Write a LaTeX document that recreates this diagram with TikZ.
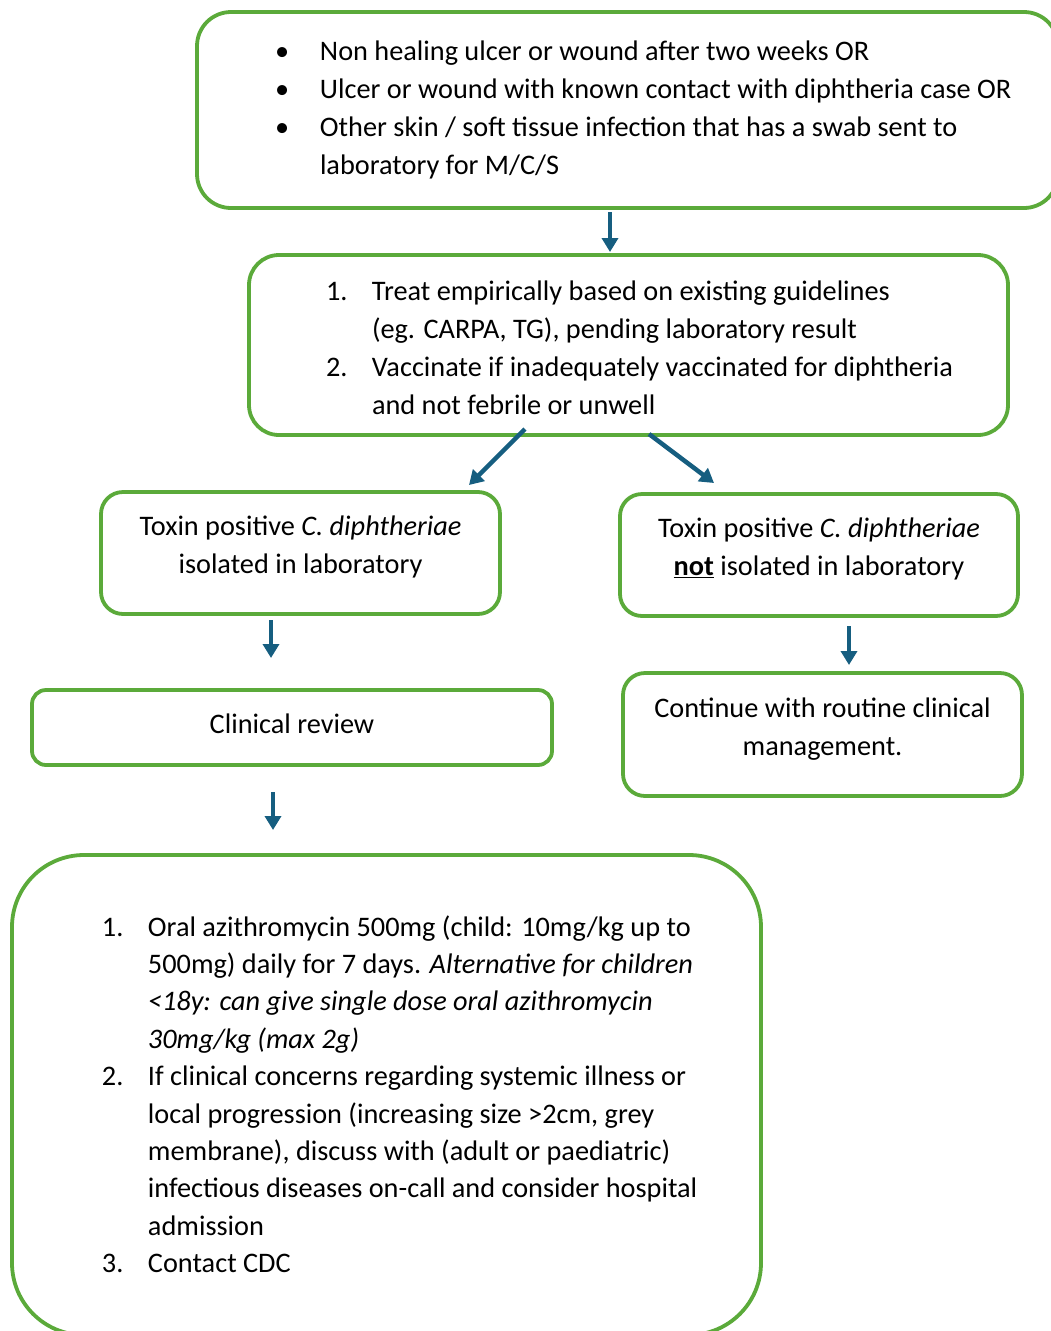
\documentclass[tikz,border=0pt]{standalone}
\usepackage{fontspec}
\setmainfont{Carlito}
\usepackage{xcolor}
\usepackage{tikz}
\usetikzlibrary{arrows.meta, positioning}

\definecolor{boxgreen}{RGB}{91,170,58}
\definecolor{arrowblue}{RGB}{22,94,128}

\begin{document}
\begin{tikzpicture}[
  x=1pt, y=-1pt,
  flowbox/.style={
    draw=boxgreen, line width=3.8pt,
    inner sep=0pt, outer sep=0pt,
    font=\fontsize{28.3}{38}\selectfont, text=black
  },
  flow/.style={
    draw=arrowblue, line width=4.5pt,
    -{Triangle[width=16pt, length=14pt]}
  }
]
  \useasboundingbox (0,0) rectangle (1050,1331);

  \node[flowbox, rounded corners=34pt, minimum width=861pt, minimum height=196pt] (screen) at (627.5,110) {%
    \begin{tabular}{@{\hspace{78pt}}p{45pt}@{}p{738pt}@{}}
      \textbullet & Non healing ulcer or wound after two weeks OR\\
      \textbullet & Ulcer or wound with known contact with diphtheria case OR\\
      \textbullet & Other skin / soft tissue infection that has a swab sent to\\
                  & laboratory for M/C/S
    \end{tabular}};

  \node[flowbox, rounded corners=30pt, minimum width=759pt, minimum height=180pt] (treat) at (628.5,345) {%
    \begin{tabular}{@{\hspace{77pt}}p{46pt}@{}p{636pt}@{}}
      1. & Treat empirically based on existing guidelines\\
         & (eg. CARPA, TG), pending laboratory result\\
      2. & Vaccinate if inadequately vaccinated for diphtheria\\
         & and not febrile or unwell\\[-10pt]
    \end{tabular}};

  \node[flowbox, rounded corners=22pt, minimum width=399pt, minimum height=122pt] (pos) at (300.5,553) {%
    \begin{tabular}{@{}c@{}}
      Toxin positive \textit{C. diphtheriae}\\
      isolated in laboratory\\[12pt]
    \end{tabular}};

  \node[flowbox, rounded corners=22pt, minimum width=398pt, minimum height=122pt] (neg) at (819,555) {%
    \begin{tabular}{@{}c@{}}
      Toxin positive \textit{C. diphtheriae}\\
      \underline{\textbf{not}} isolated in laboratory\\[12pt]
    \end{tabular}};

  \node[flowbox, rounded corners=14pt, minimum width=520pt, minimum height=75pt] (review) at (292,727.5) {%
    \begin{tabular}{@{}c@{}}
      Clinical review\\[4pt]
    \end{tabular}};

  \node[flowbox, rounded corners=22pt, minimum width=399pt, minimum height=123pt] (routine) at (822.5,734.5) {%
    \begin{tabular}{@{}c@{}}
      Continue with routine clinical\\
      management.\\[12pt]
    \end{tabular}};

  \node[flowbox, rounded corners=72pt, minimum width=749pt, minimum height=480pt,
        font=\fontsize{28.3}{37.4}\selectfont] (manage) at (386.5,1095) {%
    \begin{tabular}{@{\hspace{90pt}}p{46pt}@{}p{613pt}@{}}
      1. & Oral azithromycin 500mg (child: 10mg/kg up to\\
         & 500mg) daily for 7 days. \textit{Alternative for children}\\
         & \textit{<18y: can give single dose oral azithromycin}\\
         & \textit{30mg/kg (max 2g)}\\
      2. & If clinical concerns regarding systemic illness or\\
         & local progression (increasing size >2cm, grey\\
         & membrane), discuss with (adult or paediatric)\\
         & infectious diseases on-call and consider hospital\\
         & admission\\
      3. & Contact CDC\\[-4pt]
    \end{tabular}};

  \draw[flow] ([xshift=-17.5pt, yshift=-4pt]screen.south) -- ([xshift=-18.5pt, yshift=3pt]treat.north);
  \draw[flow] ([xshift=-103.5pt, yshift=6pt]treat.south) -- ([xshift=168.5pt, yshift=7pt]pos.north);
  \draw[flow] ([xshift=20.5pt, yshift=1pt]treat.south) -- ([xshift=-105pt, yshift=11pt]neg.north);
  \draw[flow] ([xshift=-29.5pt, yshift=-6pt]pos.south) -- ([xshift=-21pt, yshift=32pt]review.north);
  \draw[flow] ([xshift=30pt, yshift=-10pt]neg.south) -- ([xshift=26.5pt, yshift=8pt]routine.north);
  \draw[flow] ([xshift=-19pt, yshift=-27pt]review.south) -- ([xshift=-113.5pt, yshift=25pt]manage.north);
\end{tikzpicture}
\end{document}
